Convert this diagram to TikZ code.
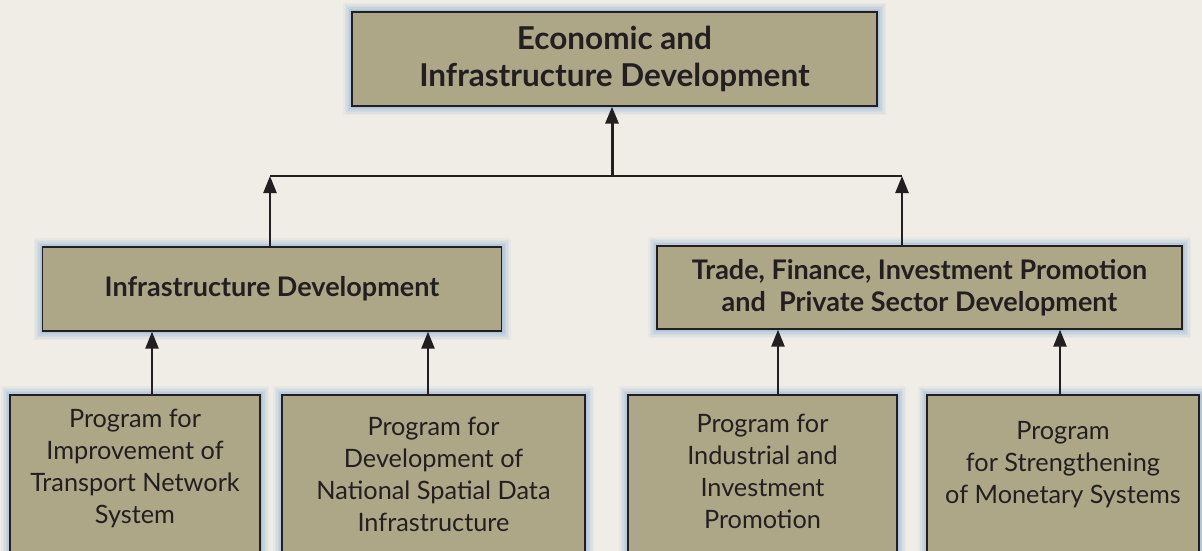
\documentclass[tikz,border=0pt]{standalone}
\usepackage{fontspec}
\setmainfont{Lato}
\usetikzlibrary{arrows.meta,calc}
\definecolor{bgc}{RGB}{240,237,230}
\definecolor{boxc}{RGB}{173,167,136}
\definecolor{edgec}{RGB}{35,31,32}
\definecolor{glowc}{RGB}{100,150,210}
\tikzset{
  glow/.style={
    preaction={draw=glowc, line width=18pt, draw opacity=0.06},
    preaction={draw=glowc, line width=15pt, draw opacity=0.07},
    preaction={draw=glowc, line width=12pt, draw opacity=0.08},
    preaction={draw=glowc, line width=9pt, draw opacity=0.10},
    preaction={draw=glowc, line width=6pt, draw opacity=0.12},
    preaction={draw=glowc, line width=3pt, draw opacity=0.15}},
  boxbase/.style={glow, draw=edgec, line width=1.3pt, fill=boxc, text=edgec,
    align=center, inner sep=0pt},
  topbox/.style={boxbase, font=\fontsize{31.5}{37}\selectfont\bfseries},
  midbox/.style={boxbase, font=\fontsize{27}{32}\selectfont\bfseries},
  progbox/.style={boxbase},
  progtext/.style={text=edgec, align=center, inner sep=0pt,
    font=\fontsize{25.3}{32}\selectfont},
  linkline/.style={draw=edgec, line width=2pt},
  arr/.style={draw=edgec, line width=2.4pt, -{Triangle[length=17pt,width=13pt]}},
}
\begin{document}
\begin{tikzpicture}[x=1pt,y=-1pt]
\useasboundingbox[fill=bgc] (0,0) rectangle (1202,551);
% top
\node[topbox, minimum width=525pt, minimum height=94pt] (econ) at (614.5,59)
  {Economic and\\Infrastructure Development};
% middle
\node[midbox, minimum width=459pt, minimum height=84pt] (infra) at (272,289)
  {Infrastructure Development};
\node[midbox, minimum width=525pt, minimum height=83pt] (trade) at (919.5,287.5)
  {Trade, Finance, Investment Promotion\\and~ Private Sector Development};
% bottom boxes
\node[progbox, minimum width=250pt, minimum height=180pt] (b1) at (135,485) {};
\node[progbox, minimum width=303pt, minimum height=180pt] (b2) at (433.5,485) {};
\node[progbox, minimum width=269pt, minimum height=180pt] (b3) at (762.5,485) {};
\node[progbox, minimum width=272pt, minimum height=180pt] (b4) at (1063,485) {};
\node[progtext] (t1) at (135,468) {Program for\\Improvement of\\Transport Network\\System};
\node[progtext] (t2) at (433.5,474) {Program for\\Development of\\National Spatial Data\\Infrastructure};
\node[progtext] (t3) at (762.5,471) {Program for\\Industrial and\\Investment\\Promotion};
\node[progtext] (t4) at (1063,465) {Program\\for Strengthening\\of Monetary Systems};
% junctions
\coordinate (jl) at (270,176);
\coordinate (jm) at (612,176);
\coordinate (jr) at (902,176);
\draw[linkline] (jl) -- (jr);
\draw[arr] (jl |- infra.north) -- (jl);
\draw[arr] (jr |- trade.north) -- (jr);
\draw[arr, line width=3pt] (jm) -- (jm |- econ.south);
% bottom arrows
\coordinate (a1) at ([xshift=17pt]b1.north);
\coordinate (a2) at ([xshift=-5.5pt]b2.north);
\coordinate (a3) at ([xshift=15.5pt]b3.north);
\coordinate (a4) at ([xshift=-3pt]b4.north);
\draw[arr] (a1) -- (a1 |- infra.south);
\draw[arr] (a2) -- (a2 |- infra.south);
\draw[arr] (a3) -- (a3 |- trade.south);
\draw[arr] (a4) -- (a4 |- trade.south);
\end{tikzpicture}
\end{document}
